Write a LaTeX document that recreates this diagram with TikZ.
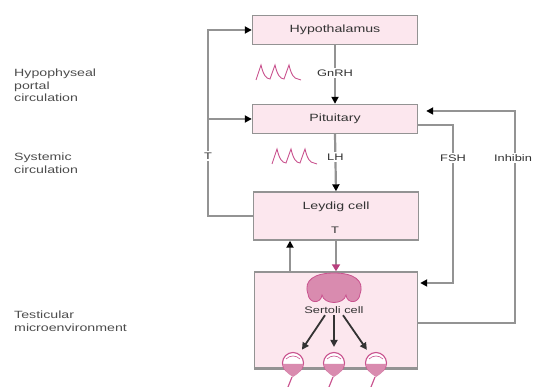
\documentclass[tikz,border=0pt]{standalone}
\usepackage{fontspec}
\setmainfont[FakeStretch=1.35]{Liberation Sans}
\usetikzlibrary{arrows.meta,positioning}
\definecolor{boxpink}{HTML}{FCE7EE}
\definecolor{linegray}{HTML}{939393}
\definecolor{wavepink}{HTML}{C9528E}
\definecolor{cellpink}{HTML}{D98BAF}
\definecolor{tippink}{HTML}{B8407E}
\begin{document}
\begin{tikzpicture}[x=1pt,y=-1pt,
        font=\fontsize{10.5}{12}\selectfont,
        organ/.style={draw=linegray,fill=boxpink,line width=1.4pt,minimum width=165pt,minimum height=29pt,text=black!80},
        link/.style={draw=linegray,line width=2.2pt},
        tip/.style={-{Triangle[length=7pt,width=7pt,color=black]}},
        pinktip/.style={-{Triangle[length=7pt,width=8pt,color=tippink]}},
        push/.style={draw=black!80,line width=1.8pt,-{Triangle[length=7pt,width=7pt]},shorten >=5pt},
        tag/.style={fill=white,inner sep=1.5pt,text=black!80,font=\fontsize{9.5}{11}\selectfont},
        region/.style={align=left,anchor=north west,inner sep=0pt,text=black!70,font=\fontsize{10.5}{12.5}\selectfont},
        germ/.style={circle,draw=wavepink,fill=white,line width=1.1pt,minimum size=21pt,inner sep=0pt}]

        \useasboundingbox (0,0) rectangle (536,387);

        % Region labels
        \node[region] (portal) at (14,69) {Hypophyseal\\portal\\circulation};
        \node[region] (systemic) at (14,153) {Systemic\\circulation};
        \node[region] (testicular) at (14,311) {Testicular\\microenvironment};

        % Axis boxes
        \node[organ] (hypo) at (335,30) {Hypothalamus};
        \node[organ] (pit) at (335,119) {Pituitary};
        \node[organ,minimum height=48pt] (leydig) at (336,216) {};
        \node[text=black!80] (leydigtxt) at (336,207) {Leydig cell};
        \node[tag,fill=none] (tout) at (335,230) {T};
        \node[organ,minimum width=163pt,minimum height=96pt] (testis) at (336,320) {};
        \draw[linegray,line width=2.8pt] (testis.south west) -- (testis.south east);

        % Hormone pulses
        \foreach \wx/\wy in {256/80,272/164}{
            \draw[wavepink,line width=0.9pt] (\wx,\wy)
                \foreach \k in {0,1,2}{
                    -- (\wx+5+\k*14,\wy-15) .. controls (\wx+7+\k*14,\wy-6) and (\wx+10+\k*14,\wy-1) .. (\wx+14+\k*14,\wy-1)
                } -- (\wx+45,\wy);
        }

        % Down the axis
        \draw[link,tip] (hypo.south) -- (pit.north) node[tag,pos=0.48] (gnrh) {GnRH};
        \draw[link,tip] (pit.south) -- (leydig.north) node[tag,pos=0.4] (lh) {LH};
        \draw[link,pinktip] (leydig.south) -- (testis.north);
        \draw[link,tip] ([xshift=-46pt]testis.north) -- ([xshift=-46pt]leydig.south);

        % Testosterone feedback
        \coordinate (loopL) at (208,0);
        \draw[link,tip] (leydig.west) -| (loopL |- hypo.west) -- (hypo.west);
        \draw[link,tip] (pit.west -| loopL) -- (pit.west);
        \node[tag] (tfb) at (208,156) {T};

        % FSH and inhibin
        \coordinate (fshX) at (453,0);
        \coordinate (inhX) at (515,0);
        \coordinate (fshOut) at ([yshift=-6pt]pit.east);
        \coordinate (fshIn) at ([yshift=37pt]testis.east);
        \coordinate (inhOut) at ([yshift=-3pt]testis.east);
        \coordinate (inhIn) at ([yshift=8pt]pit.east);
        \draw[link,tip,shorten >=2pt] (fshOut) -| (fshIn -| fshX) -- (fshIn);
        \draw[link,tip,shorten >=8pt] (inhOut) -| (inhIn -| inhX) -- (inhIn);
        \node[tag] (fsh) at (453,158) {FSH};
        \node[tag] (inh) at (513,158) {Inhibin};

        % Sertoli cell
        \draw[wavepink,fill=cellpink,line width=0.8pt] (308,294)
            .. controls (303,280) and (315,273) .. (334,273)
            .. controls (353,273) and (365,280) .. (360,294)
            .. controls (359,304) and (347,304) .. (346,295)
            .. controls (344,305) and (324,305) .. (322,295)
            .. controls (321,304) and (309,304) .. (308,294) -- cycle;
        \node[tag,fill=none] (sertoli) at (334,310) {Sertoli cell};

        % Germ cells
        \foreach \gx/\nm in {293/germA,334/germB,376/germC}{
            \node[germ] (\nm) at (\gx,363) {};
            \fill[cellpink] (\gx-10,364) .. controls (\gx-10,370) and (\gx-5,374) .. (\gx,377)
                .. controls (\gx+5,374) and (\gx+10,370) .. (\gx+10,364) -- cycle;
            \draw[wavepink,line width=0.6pt] (\gx-7,359) .. controls (\gx-3,355) and (\gx+3,355) .. (\gx+7,359);
            \draw[wavepink,line width=1.2pt] (\gx-1,377) -- (\gx-5,387);
        }
        \draw[push] ([xshift=-9pt]sertoli.south) -- (germA);
        \draw[push] (sertoli.south) -- (germB);
        \draw[push] ([xshift=9pt]sertoli.south) -- (germC);
\end{tikzpicture}
\end{document}
